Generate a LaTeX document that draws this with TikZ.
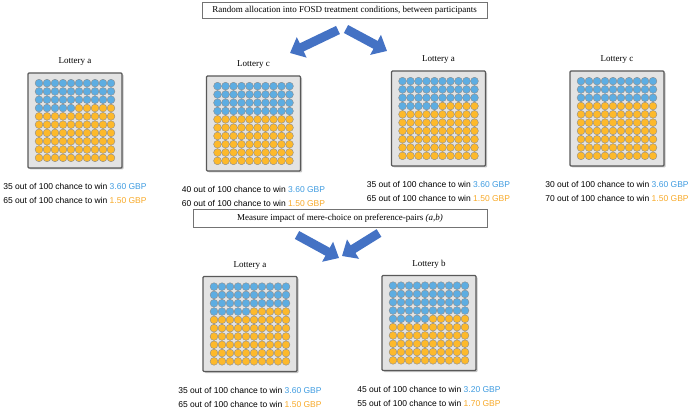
\documentclass[tikz,border=0pt]{standalone}
\usepackage{fontspec}
\setmainfont{Liberation Serif}
\setsansfont{Liberation Sans}
\usetikzlibrary{arrows.meta,positioning,calc,shadows}

\definecolor{arrowblue}{HTML}{4472C4}
\definecolor{ballblue}{HTML}{5DADE2}
\definecolor{ballorange}{HTML}{FDB92B}
\definecolor{txtblue}{HTML}{3E9BE0}
\definecolor{txtorange}{HTML}{F7A928}
\definecolor{boxgray}{HTML}{E3E3E3}

% 10x10 balls inside a lottery box: #1 box name, #2 number of blue balls
\newcommand{\balls}[2]{%
  \foreach \r in {0,...,9}
    \foreach \c in {0,...,9} {
      \pgfmathtruncatemacro{\k}{\r*10+\c}
      \ifnum\k<#2 \def\bc{ballblue}\else\def\bc{ballorange}\fi
      \node[ball,fill=\bc] (#1-\k) at ($(#1.center)+(\c*8-36,\r*8.3-37.35)$) {};
    }}
\newcommand{\odds}[4]{#1 out of 100 chance to win \textcolor{txtblue}{#2 GBP}\\
  #3 out of 100 chance to win \textcolor{txtorange}{#4 GBP}}

\begin{document}
\begin{tikzpicture}[x=1pt,y=-1pt,
    every node/.style={font=\fontsize{9}{11}\selectfont},
    stepnote/.style={draw=black!55,line width=.6pt,fill=white,minimum height=16pt,inner sep=2pt},
    lotbox/.style={draw=black!65,line width=1.2pt,fill=boxgray,rounded corners=1pt,
      minimum width=94pt,minimum height=95pt,
      drop shadow={shadow xshift=1.5pt,shadow yshift=-1.5pt,opacity=.45}},
    ball/.style={circle,draw=gray!90,line width=.4pt,minimum size=7.8pt,inner sep=0pt},
    oddstext/.style={font=\sffamily\fontsize{8.5}{14}\selectfont,align=left,inner sep=0pt},
    fatarrow/.style={draw=arrowblue,line width=9pt,-{Triangle[length=13pt,width=22pt]}}]
  \useasboundingbox (0,0) rectangle (690,411);

  % first step
  \node[stepnote,minimum width=285pt] (alloc) at (344.5,10)
    {Random allocation into FOSD treatment conditions, between participants};
  \coordinate (a1s) at (338,30);  \coordinate (a1e) at (290,53);
  \coordinate (a2s) at (346,29);  \coordinate (a2e) at (387,51);
  \draw[fatarrow] (a1s) -- (a1e);
  \draw[fatarrow] (a2s) -- (a2e);

  % treatment lotteries
  \node[lotbox] (boxA) at (75,120.5) {};
  \node[lotbox] (boxC) at (253.5,123.5) {};
  \node[lotbox] (boxAA) at (438.5,118.5) {};
  \node[lotbox] (boxCC) at (617,118.5) {};
  \balls{boxA}{35} \balls{boxC}{40} \balls{boxAA}{35} \balls{boxCC}{30}
  \node[above=3pt of boxA] (labA) {Lottery a};
  \node[above=3pt of boxC] (labC) {Lottery c};
  \node[above=3pt of boxAA] (labAA) {Lottery a};
  \node[above=3pt of boxCC] (labCC) {Lottery c};
  \node[oddstext,below=15pt of boxA] (oddA) {\odds{35}{3.60}{65}{1.50}};
  \node[oddstext,below=15pt of boxC] (oddC) {\odds{40}{3.60}{60}{1.50}};
  \node[oddstext,below=15pt of boxAA] (oddAA) {\odds{35}{3.60}{65}{1.50}};
  \node[oddstext,below=15pt of boxCC] (oddCC) {\odds{30}{3.60}{70}{1.50}};

  % second step
  \node[stepnote,minimum width=294pt,minimum height=18pt] (measure) at (340,218)
    {Measure impact of mere-choice on preference-pairs \textit{(a,b)}};
  \coordinate (b1s) at (297,235); \coordinate (b1e) at (339,258);
  \coordinate (b2s) at (379,233); \coordinate (b2e) at (342,256);
  \draw[fatarrow] (b1s) -- (b1e);
  \draw[fatarrow] (b2s) -- (b2e);

  % preference pair
  \node[lotbox] (boxPa) at (250,324) {};
  \node[lotbox] (boxPb) at (429,323) {};
  \balls{boxPa}{35} \balls{boxPb}{45}
  \node[above=3pt of boxPa] (labPa) {Lottery a};
  \node[above=3pt of boxPb] (labPb) {Lottery b};
  \node[oddstext,below=15pt of boxPa] (oddPa) {\odds{35}{3.60}{65}{1.50}};
  \node[oddstext,below=15pt of boxPb] (oddPb) {\odds{45}{3.20}{55}{1.70}};
\end{tikzpicture}
\end{document}
